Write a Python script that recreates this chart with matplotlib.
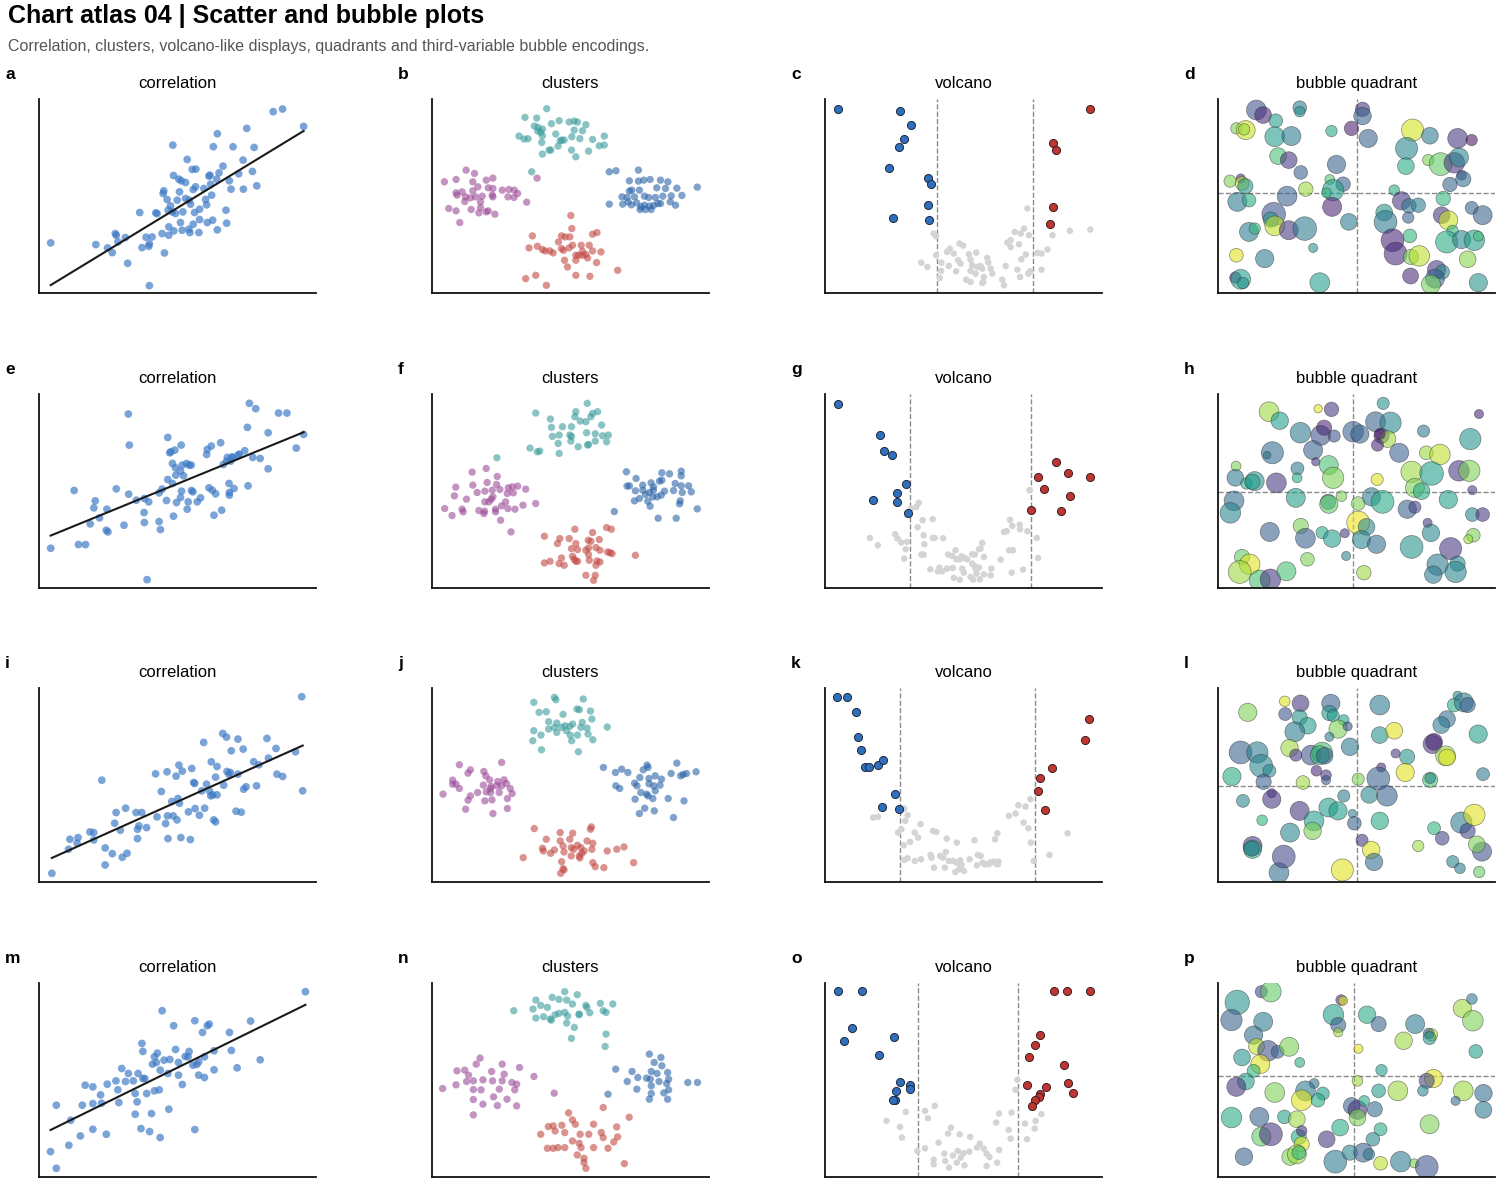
import matplotlib
matplotlib.use('Agg')
import matplotlib.pyplot as plt
import numpy as np

plt.rcParams['font.family'] = ['Liberation Sans', 'DejaVu Sans']

# ---------------- data (arbitrary units) ----------------
# correlation panels: (x, y)
a_pts = [(152,152),(287,147),(322,137),(336,123),(345,180),(348,175),(353,155),(375,168),(382,91),
         (418,243),(425,138),(437,169),(447,149),(445,142),(455,170),(447,24),(466,242),(470,240),
         (485,180),(490,308),(488,300),(492,122),(500,282),(503,250),(505,200),(505,175),(510,263),
         (515,245),(517,445),(519,354),(520,188),(525,240),(530,280),(535,343),(537,305),(540,213),
         (542,338),(545,190),(547,245),(555,333),(555,285),(560,402),(565,193),(566,280),(568,183),
         (570,268),(575,372),(578,208),(578,312),(582,243),(586,373),(585,320),(595,183),(597,253),
         (597,222),(610,315),(615,282),(618,266),(620,213),(625,352),(628,355),(630,328),(633,295),
         (636,220),(638,440),(648,343),(650,479),(650,191),(655,362),(667,382),(676,250),(678,211),
         (686,338),(691,313),(697,440),(714,359),(727,400),(728,313),(738,495),(755,366),(760,438),
         (768,323),(817,545),(845,553),(908,501)]
e_pts = [(152,121),(222,294),(235,132),(256,132),(270,194),(281,242),(285,263),(298,212),(320,238),
         (318,175),(323,170),(348,299),(371,190),(385,283),(384,523),(387,430),(408,265),(431,228),
         (432,198),(432,270),(445,260),(476,201),(480,177),(476,287),(485,298),(498,264),(502,327),
         (502,453),(508,407),(511,410),(516,315),(519,217),(516,375),(523,415),(525,362),(528,258),
         (526,340),(540,352),(540,273),(543,292),(542,430),(545,370),(549,338),(558,375),(560,238),
         (563,260),(566,370),(572,370),(573,294),(577,290),(590,260),(600,272),(618,402),(620,417),
         (625,302),(632,427),(635,295),(640,220),(645,284),(660,437),(663,235),(668,372),(678,382),
         (680,393),(685,315),(686,280),(686,288),(690,382),(694,395),(700,300),(697,392),(712,400),
         (716,403),(732,413),(740,483),(742,308),(746,555),(756,393),(765,539),(778,390),(802,467),
         (802,359),(833,526),(858,526),(886,421),(908,462),(440,27)]
i_pts = [(105,28),(140,100),(143,130),(160,135),(158,118),(185,152),(193,150),(193,128),(210,307),
         (217,104),(217,53),(232,87),(237,178),(240,210),(249,157),(253,76),(260,223),(263,88),
         (282,210),(285,160),(285,132),(288,170),(294,210),(304,165),(323,326),(326,197),(335,273),
         (344,177),(347,332),(348,200),(349,132),(357,243),(360,200),(366,319),(368,188),(370,252),
         (372,352),(373,238),(376,135),(379,334),(392,212),(396,129),(399,342),(403,300),(405,297),
         (406,222),(415,202),(420,275),(424,420),(426,223),(430,295),(436,275),(439,260),(440,362),
         (443,263),(445,188),(449,182),(449,316),(452,348),(452,263),(464,447),(466,292),(472,436),
         (473,333),(477,325),(480,330),(482,395),(492,214),(496,430),(496,325),(503,211),(507,400),
         (508,280),(513,287),(529,362),(535,290),(540,353),(557,432),(560,373),(576,402),(578,325),
         (590,318),(617,392),(630,557),(632,275)]
m_pts = [(52,78),(58,28),(71,97),(73,172),(58,217),(83,125),(85,217),(88,277),(96,272),(96,145),
         (96,222),(104,248),(105,223),(110,130),(111,280),(120,290),(122,263),(123,225),(126,327),
         (130,288),(133,312),(138,290),(140,190),(140,252),(142,227),(143,312),(147,402),(148,378),
         (146,147),(148,297),(150,297),(152,252),(155,138),(157,192),(158,340),(160,362),(160,260),
         (162,345),(163,373),(165,263),(166,120),(168,500),(166,322),(170,352),(174,312),(175,205),
         (176,354),(180,455),(182,384),(185,345),(185,307),(189,279),(192,363),(195,362),(196,378),
         (200,337),(202,144),(202,470),(204,339),(206,307),(206,347),(210,435),(212,300),(212,362),
         (215,455),(217,460),(222,323),(222,380),(238,435),(240,381),(246,329),(260,469),(270,353),
         (317,557)]

# cluster panels: (x, y) per group
b_teal = [(453,554),(388,528),(423,526),(490,518),(467,509),(520,514),(535,517),(545,514),(416,502),
          (427,498),(440,493),(570,506),(426,487),(535,490),(560,488),(435,483),(480,478),(370,472),
          (440,473),(498,460),(528,470),(552,464),(625,472),(385,463),(397,464),(505,460),(590,462),
          (438,453),(493,458),(487,442),(610,443),(625,445),(465,430),(460,430),(527,430),(578,427),
          (440,418),(540,410),(408,365)]
b_purple = [(424,346),(212,370),(237,360),(182,342),(147,335),(232,335),(272,340),(292,346),(278,317),
            (292,315),(320,310),(182,302),(200,305),(232,308),(247,320),(340,312),(356,310),(366,300),
            (185,295),(210,290),(225,287),(240,290),(260,292),(290,295),(292,290),(337,290),(355,288),
            (208,276),(255,275),(160,255),(182,248),(227,252),(255,258),(250,242),(272,245),(278,248),
            (298,238),(393,274),(193,213)]
b_blue = [(640,365),(660,368),(727,370),(700,338),(727,337),(743,340),(762,342),(793,340),(815,335),
          (707,310),(700,307),(730,310),(782,317),(808,315),(842,316),(903,319),(678,290),(693,288),
          (715,290),(745,292),(758,288),(778,288),(800,292),(825,293),(857,294),(640,268),(680,268),
          (696,275),(722,272),(735,260),(745,265),(760,262),(772,264),(785,270),(793,270),(822,275),
          (838,265),(748,252),(765,252),(732,252),(706,266)]
b_red = [(525,234),(528,195),(410,173),(497,173),(508,170),(522,170),(603,183),(590,178),(488,155),
         (530,145),(556,145),(580,145),(400,137),(425,142),(440,132),(448,128),(462,128),(472,122),
         (497,135),(503,130),(520,137),(540,115),(548,115),(560,127),(570,117),(575,107),(590,128),
         (615,125),(506,100),(540,100),(602,93),(515,80),(540,55),(582,52),(665,70),(390,45),(420,55),
         (452,25),(560,115)]

f_teal = [(574,555),(420,526),(540,530),(590,525),(605,530),(464,508),(537,515),(553,502),(570,500),
          (585,515),(527,485),(617,490),(467,483),(500,485),(470,456),(490,460),(522,460),(527,456),
          (572,467),(598,464),(620,458),(637,460),(487,435),(525,442),(547,425),(575,430),(578,432),
          (598,442),(632,440),(403,421),(425,410),(432,412),(490,405),(304,392)]
f_purple = [(230,349),(272,360),(181,304),(232,310),(275,318),(305,336),(303,312),(313,297),(338,302),
            (350,305),(366,307),(390,298),(177,278),(213,268),(245,288),(268,292),(290,295),(292,275),
            (287,268),(280,260),(335,285),(353,287),(330,260),(268,260),(148,240),(200,238),(203,230),
            (250,234),(267,232),(265,225),(300,238),(300,230),(318,248),(337,240),(358,238),(382,250),
            (420,255),(170,219),(315,205),(346,170)]
f_blue = [(691,350),(720,330),(797,347),(820,344),(855,352),(855,338),(693,307),(700,308),(740,310),
          (765,317),(790,322),(797,325),(772,305),(837,315),(855,308),(877,308),(718,293),(740,295),
          (760,288),(772,295),(805,292),(832,294),(858,288),(885,290),(715,263),(730,270),(748,282),
          (755,262),(770,275),(783,275),(795,280),(852,263),(850,254),(762,247),(655,231),(786,211),
          (840,211),(903,239)]
f_red = [(537,178),(632,183),(646,178),(446,157),(492,150),(485,135),(520,150),(540,135),(577,145),
         (585,142),(590,168),(610,147),(527,120),(545,117),(570,115),(578,122),(600,123),(612,115),
         (635,110),(648,105),(642,108),(578,102),(497,92),(530,97),(535,88),(545,82),(580,85),(603,83),
         (612,80),(446,77),(463,82),(490,75),(505,70),(600,70),(718,100),(570,40),(598,40),(593,25),
         (540,82)]

j_teal = [(1160,555),(1163,548),(1117,540),(1220,550),(1128,510),(1143,512),(1178,504),(1207,520),
          (1212,518),(1235,514),(1148,482),(1165,478),(1198,475),(1218,480),(1238,490),(1160,465),
          (1175,465),(1182,470),(1192,468),(1117,455),(1148,460),(1215,465),(1228,463),(1270,466),
          (1132,442),(1165,450),(1193,442),(1208,442),(1230,445),(1115,425),(1196,425),(1240,428),
          (1133,398),(1210,392),(1185,455)]
j_purple = [(962,353),(985,338),(1050,360),(980,328),(1013,333),(1017,320),(1025,308),(1042,303),
            (948,307),(955,295),(1055,308),(1060,297),(948,295),(962,282),(1012,292),(1028,288),
            (1040,290),(1050,290),(1018,272),(1027,282),(1068,282),(1072,267),(928,265),(985,260),
            (1000,270),(1027,270),(1045,270),(980,247),(1015,245),(1030,248),(1062,252),(975,220),
            (1032,207),(1062,222)]
j_blue = [(1262,345),(1287,330),(1300,340),(1313,330),(1345,338),(1353,352),(1355,345),(1415,358),
          (1403,327),(1428,324),(1423,320),(1435,327),(1455,332),(1288,290),(1296,282),(1327,298),
          (1338,315),(1357,312),(1370,320),(1383,310),(1332,290),(1357,296),(1367,290),(1380,292),
          (1340,270),(1352,265),(1370,275),(1355,260),(1328,250),(1365,252),(1397,252),(1430,245),
          (1348,223),(1368,215),(1337,207),(1408,195)]
j_red = [(1118,162),(1172,150),(1198,148),(1237,167),(1235,160),(1143,130),(1172,125),(1192,130),
         (1228,125),(1240,118),(1135,103),(1160,98),(1178,110),(1195,105),(1208,112),(1215,105),
         (1222,95),(1180,92),(1137,95),(1217,88),(1200,100),(1212,80),(1238,100),(1270,95),(1290,100),
         (1305,107),(1095,75),(1152,88),(1175,63),(1195,80),(1213,74),(1240,60),(1245,48),(1263,45),
         (1325,60),(1178,42),(1180,38),(1173,28)]

n_teal = [(590,557),(603,548),(577,540),(584,534),(560,532),(565,516),(592,532),(598,520),(612,516),
          (627,522),(640,520),(557,505),(572,510),(584,492),(590,495),(605,488),(613,510),(616,494),
          (630,500),(537,500),(560,478),(568,482),(575,475),(580,488),(593,484),(605,490),(633,495),
          (576,472),(592,463),(600,450),(633,430),(597,417),(632,393)]
n_purple = [(502,358),(478,320),(486,322),(498,340),(514,318),(525,340),(543,330),(558,303),(490,307),
            (495,290),(505,293),(515,290),(525,290),(527,310),(535,285),(540,280),(538,263),(463,267),
            (477,278),(488,288),(495,264),(503,263),(522,265),(530,235),(516,242),(495,234),(505,220),
            (520,216),(540,215),(579,253),(495,188)]
n_blue = [(678,370),(690,360),(683,345),(691,335),(643,325),(660,318),(680,318),(686,312),(697,315),
          (698,295),(718,285),(728,285),(666,300),(675,298),(679,295),(655,288),(688,288),(696,282),
          (680,275),(665,265),(698,263),(693,254),(680,252),(635,250),(678,235),(697,235)]
n_red = [(630,210),(594,194),(598,173),(657,181),(573,153),(578,155),(587,157),(601,160),(620,160),
         (644,152),(565,130),(580,140),(590,135),(606,130),(615,130),(628,135),(630,120),(645,122),
         (641,107),(598,110),(605,103),(583,90),(578,88),(607,90),(620,90),(603,68),(610,58),(635,88),
         (610,45),(652,42),(612,28),(572,88),(590,90)]

# volcano panels: significant down, significant up, not significant, thresholds
c_down = [(143,553),(330,548),(362,505),(341,464),(325,438),(295,377),(413,345),(423,329),(413,266),
          (308,228),(417,220)]
c_up = [(898,553),(788,452),(795,431),(786,261),(777,209)]
c_ns = [(710,255),(430,180),(437,172),(672,185),(700,195),(690,180),(715,175),(660,160),(785,175),
        (837,188),(898,192),(650,153),(685,148),(660,140),(507,150),(518,144),(478,135),(470,125),
        (490,120),(535,118),(557,123),(437,115),(740,122),(752,120),(770,132),(705,117),(393,93),
        (411,80),(453,93),(503,100),(510,90),(540,102),(545,85),(590,107),(593,93),(475,83),(570,83),
        (575,75),(600,75),(645,83),(692,103),(452,68),(497,67),(540,68),(605,60),(680,72),(718,67),
        (752,72),(448,47),(527,42),(540,35),(580,50),(578,35),(635,42),(688,50),(640,25),(575,32),
        (560,80),(555,60),(713,60)]
c_thr = [440, 727]

g_down = [(143,554),(269,459),(280,411),(305,400),(348,314),(320,287),(248,266),(321,260),(353,227)]
g_up = [(795,378),(830,347),(742,333),(898,334),(759,298),(837,277),(720,237),(810,234)]
g_ns = [(716,295),(385,257),(378,245),(362,240),(397,205),(427,208),(382,184),(658,206),(665,188),
        (687,192),(688,178),(640,170),(648,172),(710,172),(738,152),(239,152),(263,130),(315,163),
        (322,150),(333,138),(350,140),(346,118),(342,90),(400,160),(427,152),(433,152),(458,151),
        (402,133),(393,102),(400,102),(575,137),(570,120),(565,118),(655,115),(667,115),(495,115),
        (545,103),(473,102),(485,98),(513,97),(522,92),(498,88),(508,88),(530,88),(553,102),(580,95),
        (630,87),(742,92),(420,58),(447,63),(442,52),(455,52),(470,60),(487,62),(515,60),(545,75),
        (552,68),(555,60),(565,63),(558,45),(580,43),(600,40),(602,60),(663,48),(697,57),(490,32),
        (508,27),(520,48),(540,35),(548,27),(568,28)]
g_thr = [358, 720]

k_down = [(182,557),(204,557),(222,512),(227,437),(232,398),(241,345),(250,345),(267,352),(278,367),
          (303,267),(276,227),(311,222)]
k_up = [(709,489),(702,428),(632,342),(607,312),(603,275),(617,218)]
k_ns = [(258,195),(268,197),(323,222),(330,202),(325,185),(317,160),(310,150),(357,175),(345,150),
        (352,135),(383,155),(390,152),(335,122),(322,112),(323,68),(330,73),(345,65),(358,70),(378,83),
        (380,75),(412,132),(433,120),(398,80),(404,75),(410,92),(416,65),(425,65),(433,60),(440,67),
        (443,53),(460,70),(470,127),(477,83),(483,80),(487,60),(492,55),(500,55),(510,63),(515,57),
        (519,55),(513,130),(518,148),(542,200),(556,207),(562,232),(577,228),(587,250),(573,180),
        (583,163),(588,120),(594,65),(627,83),(665,148),(385,45),(408,45),(430,32),(438,40),(448,35),
        (475,52),(502,60),(520,63)]
k_thr = [315, 596]

o_down = [(875,558),(900,558),(890,447),(882,408),(934,420),(918,368),(940,287),(950,277),(950,267),
          (936,260),(935,233),(933,234)]
o_up = [(1100,558),(1114,558),(1138,558),(1086,428),(1080,397),(1074,360),(1110,337),(1072,277),
        (1092,273),(1115,285),(1120,255),(1086,251),(1085,242),(1080,233),(1077,215)]
o_ns = [(1062,293),(1060,263),(976,215),(966,200),(946,197),(969,178),(926,170),(1043,192),(1056,195),
        (1077,210),(1087,190),(1081,170),(1040,165),(1070,162),(1080,147),(940,152),(993,150),
        (1053,143),(990,132),(1002,130),(942,120),(1013,122),(1055,117),(1072,115),(980,105),
        (1023,102),(966,88),(958,80),(1020,90),(1027,87),(1043,83),(1000,80),(1006,73),(1012,78),
        (986,72),(1030,72),(995,66),(1003,60),(1033,62),(975,54),(987,50),(999,45),(1041,45),
        (1030,35),(1007,37),(991,30),(975,40)]
o_thr = [959, 1063]

# bubble panels: (x, y, size value, colour value)
d_bubbles = [(215,550,26,0.25),(235,535,22,0.10),(345,557,18,0.40),(345,545,14,0.50),(273,518,18,0.55),
             (155,495,15,0.80),(183,490,25,0.92),(178,492,15,0.85),(270,470,26,0.55),(320,472,25,0.40),
             (440,487,15,0.60),(500,495,19,0.08),(533,552,19,0.15),(533,532,23,0.30),(550,465,24,0.30),
             (280,412,22,0.70),(312,400,22,0.15),(348,363,18,0.30),(455,387,24,0.30),(136,337,16,0.80),
             (168,345,12,0.10),(172,330,18,0.90),(182,322,20,0.50),(435,342,13,0.72),(475,328,19,0.30),
             (363,313,19,0.85),(445,310,28,0.55),(425,302,13,0.65),(158,275,25,0.40),(193,280,18,0.60),
             (307,292,26,0.30),(442,260,25,0.10),(267,238,31,0.25),(258,222,20,0.50),(270,203,26,0.90),
             (312,190,25,0.15),(360,195,31,0.40),(193,185,25,0.40),(210,195,15,0.65),(492,215,22,0.40),
             (385,137,12,0.50),(155,115,18,0.95),(240,105,24,0.40),(152,48,15,0.10),(168,43,26,0.55),
             (175,32,15,0.50),(405,33,26,0.55),(683,490,29,0.93),(735,473,22,0.40),(818,465,26,0.15),
             (860,460,15,0.05),(665,435,29,0.45),(730,400,15,0.80),(767,388,30,0.75),(808,392,27,0.15),
             (822,408,25,0.45),(663,382,22,0.60),(830,355,13,0.20),(835,343,20,0.35),(795,327,19,0.30),
             (628,310,14,0.60),(650,278,24,0.15),(672,263,19,0.40),(700,265,19,0.40),(775,285,19,0.65),
             (860,257,17,0.30),(893,235,25,0.30),(670,228,15,0.30),(598,243,22,0.50),(602,215,30,0.40),
             (770,235,22,0.15),(790,220,25,0.92),(803,188,15,0.65),(623,160,30,0.10),(675,173,18,0.65),
             (785,155,29,0.60),(830,162,24,0.45),(868,160,27,0.55),(880,172,13,0.70),(632,120,30,0.12),
             (678,110,20,0.80),(703,113,27,0.90),(848,103,22,0.82),(677,53,21,0.12),(755,72,24,0.15),
             (772,65,19,0.45),(750,45,25,0.30),(738,28,25,0.78),(880,33,24,0.50)]
d_quad = (515, 300)

h_bubbles = [(253,530,26,0.85),(285,503,23,0.55),(400,539,11,0.95),(440,537,19,0.15),(347,467,27,0.40),
             (408,459,26,0.25),(418,482,20,0.10),(448,457,16,0.25),(385,415,25,0.30),(393,380,11,0.15),
             (263,407,29,0.35),(247,400,10,0.35),(154,367,13,0.80),(152,332,22,0.40),(185,315,15,0.60),
             (210,322,25,0.50),(203,320,20,0.55),(275,317,26,0.15),(338,360,17,0.40),(337,332,13,0.60),
             (432,370,25,0.70),(445,332,28,0.80),(505,470,27,0.30),(525,463,24,0.30),(572,500,26,0.30),
             (595,555,16,0.50),(617,497,28,0.45),(590,458,20,0.15),(608,448,22,0.85),(578,430,16,0.10),
             (585,463,14,0.05),(643,407,25,0.30),(716,472,16,0.40),(724,407,18,0.85),(765,402,27,0.90),
             (856,448,28,0.50),(882,523,12,0.10),(680,350,28,0.85),(740,345,31,0.55),(822,353,27,0.15),
             (853,353,28,0.80),(577,327,16,0.95),(690,302,25,0.80),(710,292,22,0.60),(862,295,12,0.15),
             (148,263,26,0.35),(137,227,27,0.45),(333,272,25,0.55),(430,260,20,0.45),(432,253,24,0.75),
             (470,277,14,0.80),(520,255,18,0.80),(560,275,24,0.40),(593,260,30,0.60),(667,238,24,0.30),
             (690,244,16,0.20),(790,267,24,0.55),(862,222,18,0.45),(893,222,18,0.15),(520,198,30,0.97),
             (545,185,22,0.45),(255,170,25,0.30),(348,188,20,0.80),(362,151,26,0.30),(412,168,16,0.60),
             (442,150,23,0.55),(480,166,12,0.15),(530,147,24,0.45),(575,133,24,0.35),(680,125,30,0.50),
             (728,197,12,0.15),(738,167,23,0.45),(865,160,18,0.80),(850,148,12,0.85),(797,120,29,0.15),
             (172,95,20,0.75),(195,73,27,0.95),(165,50,30,0.85),(225,25,27,0.70),(257,28,27,0.15),
             (305,52,25,0.70),(368,88,18,0.80),(484,98,12,0.45),(537,48,19,0.85),(758,72,28,0.40),
             (818,75,20,0.45),(812,50,28,0.45),(745,42,23,0.40)]
h_quad = (505, 290)

l_bubbles = [(1040,510,24,0.80),(1117,543,14,0.95),(1150,537,22,0.15),(1118,505,17,0.25),(1148,495,20,0.50),
             (1213,537,24,0.30),(1210,508,20,0.50),(1218,500,16,0.55),(1240,487,14,0.55),(1165,470,22,0.55),
             (1138,452,26,0.40),(1228,460,24,0.80),(1248,468,12,0.25),(1210,437,12,0.40),(1025,390,30,0.30),
             (1060,390,28,0.40),(1068,350,30,0.45),(1085,335,17,0.45),(1007,318,24,0.60),(1073,302,20,0.30),
             (1127,403,23,0.85),(1140,382,16,0.15),(1172,382,26,0.25),(1195,390,27,0.70),(1190,382,25,0.65),
             (1200,380,22,0.30),(1253,407,23,0.40),(1183,335,14,0.10),(1203,322,14,0.15),(1203,307,12,0.25),
             (1155,300,18,0.85),(1270,310,16,0.80),(1315,532,26,0.40),(1315,442,22,0.50),(1345,455,22,0.95),
             (1348,387,12,0.15),(1372,377,20,0.50),(1318,345,12,0.10),(1312,312,30,0.30),(1368,330,24,0.95),
             (1470,532,18,0.60),(1477,560,12,0.45),(1490,540,25,0.40),(1498,532,20,0.30),(1455,490,22,0.35),
             (1443,472,22,0.40),(1425,415,25,0.15),(1428,422,22,0.10),(1452,380,26,0.85),(1455,375,22,0.95),
             (1520,445,24,0.55),(1420,308,20,0.70),(1420,313,14,0.45),(1530,325,17,0.40),(1090,268,12,0.15),
             (1090,250,24,0.15),(1030,245,17,0.45),(1148,215,25,0.15),(1178,185,26,0.55),(1175,155,23,0.80),
             (1128,150,25,0.45),(1070,187,14,0.65),(1208,225,25,0.55),(1228,215,24,0.55),(1240,260,16,0.40),
             (1258,207,11,0.45),(1262,178,18,0.30),(1293,263,22,0.45),(1330,260,27,0.30),(1315,185,23,0.60),
             (1278,127,16,0.15),(1297,98,23,0.95),(1303,62,23,0.35),(1237,38,29,0.95),(1105,30,26,0.35),
             (1115,78,30,0.20),(1050,110,25,0.15),(1050,100,24,0.60),(1048,102,20,0.45),(1395,110,15,0.85),
             (1428,163,17,0.65),(1445,133,18,0.20),(1485,180,28,0.40),(1498,155,20,0.20),(1512,203,28,0.95),
             (1528,93,25,0.25),(1517,115,22,0.80),(1467,63,16,0.45),(1482,43,14,0.40),(1522,32,15,0.75)]
l_quad = (1268, 290)

p_bubbles = [(1293,525,32,0.50),(1318,557,16,0.20),(1328,557,27,0.75),(1401,532,14,0.15),(1403,530,12,0.95),
             (1287,472,28,0.30),(1320,467,25,0.40),(1393,488,27,0.55),(1428,488,23,0.60),(1398,457,20,0.30),
             (1398,435,12,0.85),(1440,460,20,0.30),(1478,460,25,0.40),(1527,507,24,0.85),(1538,470,27,0.80),
             (1537,535,14,0.40),(1495,428,16,0.90),(1492,432,14,0.30),(1466,410,23,0.85),(1493,418,17,0.50),
             (1310,427,24,0.35),(1313,393,21,0.90),(1325,380,27,0.25),(1335,377,17,0.30),(1347,392,25,0.80),
             (1298,360,22,0.50),(1317,340,25,0.95),(1358,345,13,0.60),(1310,320,17,0.65),(1419,386,12,0.95),
             (1443,322,15,0.55),(1541,378,18,0.55),(1497,297,24,0.95),(1490,290,20,0.20),(1302,288,22,0.55),
             (1292,272,25,0.15),(1373,282,13,0.35),(1382,252,17,0.55),(1364,260,26,0.40),(1332,255,26,0.80),
             (1360,232,27,0.95),(1377,232,18,0.60),(1418,290,14,0.85),(1440,260,18,0.55),(1460,260,26,0.85),
             (1486,260,14,0.45),(1528,260,26,0.85),(1520,230,12,0.35),(1549,253,23,0.35),(1549,203,22,0.40),
             (1412,215,22,0.30),(1418,203,25,0.15),(1436,205,20,0.35),(1418,180,22,0.80),(1425,230,14,0.60),
             (1287,180,27,0.60),(1316,182,25,0.30),(1342,182,18,0.55),(1355,175,22,0.85),(1318,123,25,0.75),
             (1328,130,30,0.15),(1357,122,20,0.60),(1360,140,14,0.15),(1360,100,20,0.95),(1386,115,22,0.15),
             (1400,150,22,0.60),(1442,145,17,0.60),(1493,160,25,0.80),(1434,115,18,0.45),(1300,63,23,0.30),
             (1348,62,22,0.80),(1355,70,25,0.85),(1357,75,18,0.65),(1395,48,30,0.40),(1410,75,20,0.45),
             (1424,75,25,0.30),(1430,70,15,0.40),(1442,43,18,0.90),(1463,48,27,0.40),(1477,43,12,0.80),
             (1490,32,30,0.25)]
p_quad = (1414, 303)

# x range shown in each panel
xlims = {'a': (117, 945), 'b': (110, 938), 'c': (105, 933), 'd': (100, 930),
         'e': (117, 945), 'f': (110, 938), 'g': (105, 933), 'h': (100, 930),
         'i': (78, 660), 'j': (905, 1482), 'k': (157, 737), 'l': (978, 1555),
         'm': (40, 328), 'n': (452, 740), 'o': (862, 1150), 'p': (1273, 1561)}
ylim = (2, 583)

# ---------------- drawing ----------------
def draw_corr(ax, pts):
    x, y = np.array(pts).T
    ax.scatter(x, y, s=31, color='#3b78c4', alpha=0.68, edgecolors='none', zorder=2)
    k, b = np.polyfit(x, y, 1)
    xx = np.array([x.min(), x.max()])
    ax.plot(xx, k * xx + b, color='#1a1a1a', lw=1.5, zorder=3)

def draw_clusters(ax, groups):
    cols = ['#3d9c9c', '#9c4c98', '#2b63a8', '#c24a44']
    for g, c in zip(groups, cols):
        x, y = np.array(g).T
        ax.scatter(x, y, s=28, color=c, alpha=0.6, edgecolors='none')

def draw_volcano(ax, down, up, ns, thr):
    for t in thr:
        ax.axvline(t, color='#8c8c8c', lw=1, ls='--', zorder=1)
    x, y = np.array(ns).T
    ax.scatter(x, y, s=22, color='#d4d4d4', edgecolors='none', zorder=2)
    x, y = np.array(down).T
    ax.scatter(x, y, s=34, color='#2f6fbd', edgecolors='#1f2a3a', linewidths=0.7, zorder=3)
    x, y = np.array(up).T
    ax.scatter(x, y, s=34, color='#bf3532', edgecolors='#3a1f1f', linewidths=0.7, zorder=3)

def draw_bubbles(ax, bubbles, quad):
    x, y, r, c = np.array(bubbles).T
    ax.axvline(quad[0], color='#8c8c8c', lw=1, ls='--', zorder=1)
    ax.axhline(quad[1], color='#8c8c8c', lw=1, ls='--', zorder=1)
    ax.scatter(x, y, s=0.3 * r ** 2, c=c, cmap='viridis', vmin=0, vmax=1, alpha=0.58,
               edgecolors='#333333', linewidths=0.5, zorder=2)

fig = plt.figure(figsize=(15, 11.83), dpi=100)
W, H = 1500, 1183
col_left = [39, 432, 825, 1218]
row_top = [99, 394, 688, 983]
aw, ah = 277, 194

letters = 'abcdefghijklmnop'
titles = ['correlation', 'clusters', 'volcano', 'bubble quadrant']
corr = [a_pts, e_pts, i_pts, m_pts]
clus = [[b_teal, b_purple, b_blue, b_red], [f_teal, f_purple, f_blue, f_red],
        [j_teal, j_purple, j_blue, j_red], [n_teal, n_purple, n_blue, n_red]]
volc = [(c_down, c_up, c_ns, c_thr), (g_down, g_up, g_ns, g_thr),
        (k_down, k_up, k_ns, k_thr), (o_down, o_up, o_ns, o_thr)]
bubb = [(d_bubbles, d_quad), (h_bubbles, h_quad), (l_bubbles, l_quad), (p_bubbles, p_quad)]

for r in range(4):
    for c in range(4):
        letter = letters[r * 4 + c]
        ax = fig.add_axes([col_left[c] / W, 1 - (row_top[r] + ah) / H, aw / W, ah / H])
        if c == 0:
            draw_corr(ax, corr[r])
        elif c == 1:
            draw_clusters(ax, clus[r])
        elif c == 2:
            draw_volcano(ax, *volc[r])
        else:
            draw_bubbles(ax, *bubb[r])
        ax.set_xlim(*xlims[letter])
        ax.set_ylim(*ylim)
        ax.set_xticks([])
        ax.set_yticks([])
        for s in ['top', 'right']:
            ax.spines[s].set_visible(False)
        for s in ['left', 'bottom']:
            ax.spines[s].set_linewidth(1.3)
            ax.spines[s].set_color('#111111')
        ax.set_title(titles[c], fontsize=12, pad=8)
        ax.text(-0.122, 1.125, letter, transform=ax.transAxes, fontsize=12.5,
                fontweight='bold', ha='left', va='center')

fig.text(8 / W, 1 - 16 / H, 'Chart atlas 04 | Scatter and bubble plots', fontsize=18,
         fontweight='bold', ha='left', va='center')
fig.text(8 / W, 1 - 47 / H, 'Correlation, clusters, volcano-like displays, quadrants and '
         'third-variable bubble encodings.', fontsize=11.5, color='#555555', ha='left', va='center')

fig.savefig('out.png', dpi=100)
